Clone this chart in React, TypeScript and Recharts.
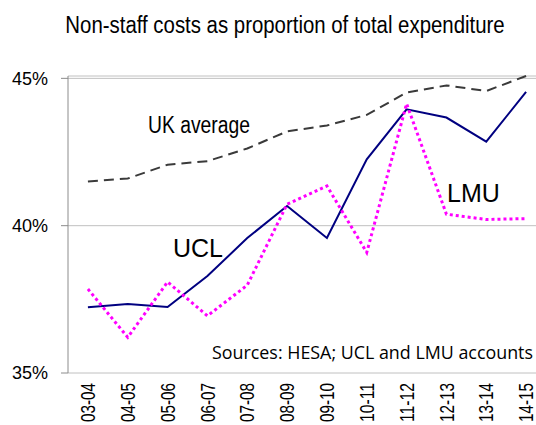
import React from "react";
import { LineChart, Line, XAxis, YAxis, CartesianGrid } from "recharts";

const categories = [
  "03-04", "04-05", "05-06", "06-07", "07-08", "08-09",
  "09-10", "10-11", "11-12", "12-13", "13-14", "14-15",
];
const ukAverage = [41.5, 41.6, 42.07, 42.19, 42.62, 43.2, 43.4, 43.76, 44.52, 44.76, 44.57, 45.08];
const ucl = [37.23, 37.34, 37.24, 38.29, 39.58, 40.67, 39.58, 42.25, 43.95, 43.67, 42.85, 44.54];
const lmu = [37.85, 36.21, 38.09, 36.94, 37.98, 40.73, 41.35, 39.09, 44.14, 40.39, 40.21, 40.24];
const yTicks = [35, 40, 45];

const data = categories.map((period, i) => ({
  x: i + 0.5,
  period,
  uk: ukAverage[i],
  ucl: ucl[i],
  lmu: lmu[i],
}));
const boundaryTicks = categories.map((_, i) => i).concat(categories.length);
const centerTicks = categories.map((_, i) => i + 0.5);

const ARIAL = "'Liberation Sans', Arial, sans-serif";
const NARROW = "'Liberation Sans Narrow', 'Arial Narrow', 'Liberation Sans', sans-serif";
const AXIS = "#8c8c8c";

// rotated period labels, squeezed a little like the Excel original
const PeriodTick = (props: any) => {
  const { x, y, payload } = props;
  const label = categories[Math.floor(payload.value)];
  return (
    <text
      x={x}
      y={y}
      dy="0.36em"
      textAnchor="end"
      transform={`rotate(-90 ${x} ${y})`}
      fill="#000"
      fontSize={20}
      fontFamily={NARROW}
      textLength={39}
      lengthAdjust="spacingAndGlyphs"
    >
      {label}
    </text>
  );
};

const App = () => {
  return (
    <div
      style={{
        position: "absolute",
        left: 0,
        top: 0,
        width: 536,
        height: 425,
        overflow: "hidden",
        background: "#fff",
      }}
    >
      <LineChart
        width={560}
        height={450}
        data={data}
        margin={{ top: 76, right: 14, left: 0, bottom: 6 }}
      >
        <CartesianGrid xAxisId="main" vertical={false} stroke="#c0c0c0" />
        <XAxis
          xAxisId="main"
          type="number"
          dataKey="x"
          domain={[0, categories.length]}
          ticks={boundaryTicks}
          tick={false}
          tickSize={6}
          height={1}
          axisLine={{ stroke: AXIS }}
          tickLine={{ stroke: AXIS }}
          interval={0}
        />
        <XAxis
          xAxisId="labels"
          type="number"
          dataKey="x"
          domain={[0, categories.length]}
          ticks={centerTicks}
          tick={<PeriodTick />}
          tickSize={0}
          tickMargin={10}
          height={70}
          axisLine={false}
          tickLine={false}
          interval={0}
        />
        <YAxis
          type="number"
          domain={[35, 45]}
          ticks={yTicks}
          width={68}
          tickSize={7}
          tickMargin={13}
          tickFormatter={(v: number) => `${v}%`}
          tick={{ fill: "#000", fontSize: 18, fontFamily: ARIAL }}
          axisLine={{ stroke: AXIS }}
          tickLine={{ stroke: AXIS }}
          interval={0}
        />
        <Line
          xAxisId="main"
          type="linear"
          dataKey="uk"
          stroke="#3a3a3a"
          strokeWidth={2}
          strokeDasharray="10 6"
          dot={false}
          activeDot={false}
          isAnimationActive={false}
        />
        <Line
          xAxisId="main"
          type="linear"
          dataKey="ucl"
          stroke="#000080"
          strokeWidth={2}
          dot={false}
          activeDot={false}
          isAnimationActive={false}
        />
        <Line
          xAxisId="main"
          type="linear"
          dataKey="lmu"
          stroke="#ff00ff"
          strokeWidth={3}
          strokeDasharray="3 3"
          dot={false}
          activeDot={false}
          isAnimationActive={false}
        />
        {/* title: plain Arial, stretched a bit vertically to look like the narrow Excel font */}
        <text
          x={0}
          y={0}
          transform="translate(285 33) scale(1 1.13)"
          textAnchor="middle"
          fontSize={20.4}
          fontFamily={ARIAL}
          fill="#000"
        >
          Non-staff costs as proportion of total expenditure
        </text>
        <text x={148} y={133} fontSize={23} fontFamily={NARROW} fill="#000" textLength={102} lengthAdjust="spacingAndGlyphs">
          UK average
        </text>
        <text x={173} y={257} fontSize={25} fontFamily={ARIAL} fill="#000">
          UCL
        </text>
        <text x={447} y={202} fontSize={25} fontFamily={ARIAL} fill="#000">
          LMU
        </text>
        <text x={212} y={359} fontSize={18} fontFamily="'Open Sans', 'Noto Sans', sans-serif" fill="#000" textLength={321} lengthAdjust="spacingAndGlyphs">
          Sources: HESA; UCL and LMU accounts
        </text>
      </LineChart>
    </div>
  );
};

export default App;
